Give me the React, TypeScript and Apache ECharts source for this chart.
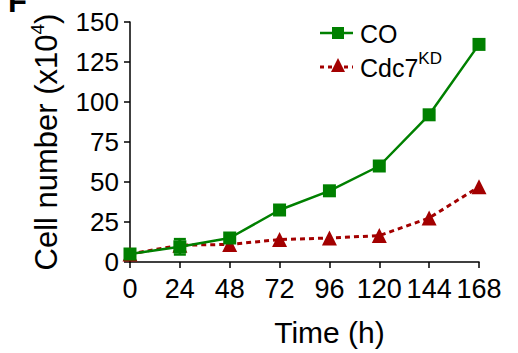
import React, { useEffect, useRef } from "react";
import * as echarts from "echarts";

const hours = [0, 24, 48, 72, 96, 120, 144, 168];
const coValues = [5, 9.5, 15, 32.5, 44.5, 60, 92, 136];
const cdcValues = [5, 10.5, 11, 14, 15, 16.5, 27.5, 47];
const coErrors = [0, 4.8, 0, 0, 0, 0, 0, 0];
const yTicks = { min: 0, max: 150, interval: 25 };
const xTicks = { min: 0, max: 168, interval: 24 };

const GREEN = "#008000";
const RED = "#a30000";
const FONT = "Liberation Sans, Arial, sans-serif";

export default function App() {
  const ref = useRef<HTMLDivElement>(null);
  useEffect(() => {
    if (!ref.current) return;
    const chart = echarts.init(ref.current, null, { renderer: "svg" });
    const errData = hours.map((h, i) => [h, coValues[i], coErrors[i]]);
    chart.setOption({
      animation: false,
      textStyle: { fontFamily: FONT },
      grid: { left: 130, right: 39, top: 22, bottom: 91 },
      xAxis: {
        type: "value",
        min: xTicks.min,
        max: xTicks.max,
        interval: xTicks.interval,
        name: "Time (h)",
        nameLocation: "middle",
        nameGap: 55,
        nameTextStyle: { fontSize: 30, color: "#000", fontFamily: FONT, padding: [0, 0, 0, 50] },
        axisLine: { lineStyle: { color: "#000", width: 1.5 } },
        axisTick: { length: 6, lineStyle: { color: "#000", width: 1.5 } },
        axisLabel: { fontSize: 27, color: "#000", margin: 13, fontFamily: FONT },
        splitLine: { show: false },
      },
      yAxis: {
        type: "value",
        min: yTicks.min,
        max: yTicks.max,
        interval: yTicks.interval,
        name: "{a|Cell number (x10}{s|4}{a|)}",
        nameLocation: "middle",
        nameGap: 68,
        nameTextStyle: {
          color: "#000",
          fontFamily: FONT,
          rich: {
            a: { fontSize: 31, color: "#000", fontFamily: FONT, lineHeight: 34, verticalAlign: "bottom" },
            s: { fontSize: 19, color: "#000", fontFamily: FONT, lineHeight: 34, verticalAlign: "top" },
          },
        },
        axisLine: { show: true, lineStyle: { color: "#000", width: 1.5 } },
        axisTick: { show: true, length: 6, lineStyle: { color: "#000", width: 1.5 } },
        axisLabel: { fontSize: 26, color: "#000", margin: 11, fontFamily: FONT },
        splitLine: { show: false },
      },
      series: [
        {
          name: "Cdc7KD",
          type: "line",
          data: hours.map((h, i) => [h, cdcValues[i]]),
          symbol: "triangle",
          symbolSize: 15,
          itemStyle: { color: RED },
          lineStyle: { color: RED, width: 3, type: [5, 4] },
          z: 2,
        },
        {
          name: "COerr",
          type: "custom",
          data: errData,
          z: 3,
          renderItem: (params: any, api: any) => {
            const x = api.value(0);
            const y = api.value(1);
            const e = api.value(2);
            if (!e) return { type: "group", children: [] };
            const top = api.coord([x, y + e]);
            const bot = api.coord([x, y - e]);
            const w = 6;
            const st = { stroke: GREEN, lineWidth: 2.5 };
            return {
              type: "group",
              children: [
                { type: "line", shape: { x1: top[0], y1: top[1], x2: bot[0], y2: bot[1] }, style: st },
                { type: "line", shape: { x1: top[0] - w, y1: top[1], x2: top[0] + w, y2: top[1] }, style: st },
                { type: "line", shape: { x1: bot[0] - w, y1: bot[1], x2: bot[0] + w, y2: bot[1] }, style: st },
              ],
            };
          },
        },
        {
          name: "CO",
          type: "line",
          data: hours.map((h, i) => [h, coValues[i]]),
          symbol: "rect",
          symbolSize: 13,
          itemStyle: { color: GREEN },
          lineStyle: { color: GREEN, width: 2.5 },
          z: 4,
        },
      ],
      graphic: [
        {
          type: "text",
          left: 8,
          top: -14,
          style: { text: "F", fontSize: 31, fontWeight: "bold", fill: "#000", fontFamily: FONT },
        },
        { type: "line", shape: { x1: 320, y1: 33, x2: 353, y2: 33 }, style: { stroke: GREEN, lineWidth: 2.5 } },
        { type: "rect", shape: { x: 332, y: 27, width: 12, height: 12 }, style: { fill: GREEN } },
        {
          type: "text",
          x: 360,
          y: 34,
          style: { text: "CO", fontSize: 25, fill: "#000", fontFamily: FONT, verticalAlign: "middle" },
        },
        {
          type: "line",
          shape: { x1: 320, y1: 67, x2: 353, y2: 67 },
          style: { stroke: RED, lineWidth: 3, lineDash: [4, 4] },
        },
        {
          type: "polygon",
          shape: { points: [[338, 58], [331, 72], [345, 72]] },
          style: { fill: RED },
        },
        {
          type: "text",
          x: 360,
          y: 65,
          style: {
            text: "{a|Cdc7}{s|KD}",
            verticalAlign: "middle",
            rich: {
              a: { fontSize: 25, fill: "#000", fontFamily: FONT, lineHeight: 30, verticalAlign: "bottom" },
              s: { fontSize: 17, fill: "#000", fontFamily: FONT, lineHeight: 30, verticalAlign: "top" },
            },
          },
        },
      ],
    });
    return () => chart.dispose();
  }, []);
  return <div ref={ref} style={{ width: 518, height: 353, position: "absolute", left: 0, top: 0 }} />;
}
